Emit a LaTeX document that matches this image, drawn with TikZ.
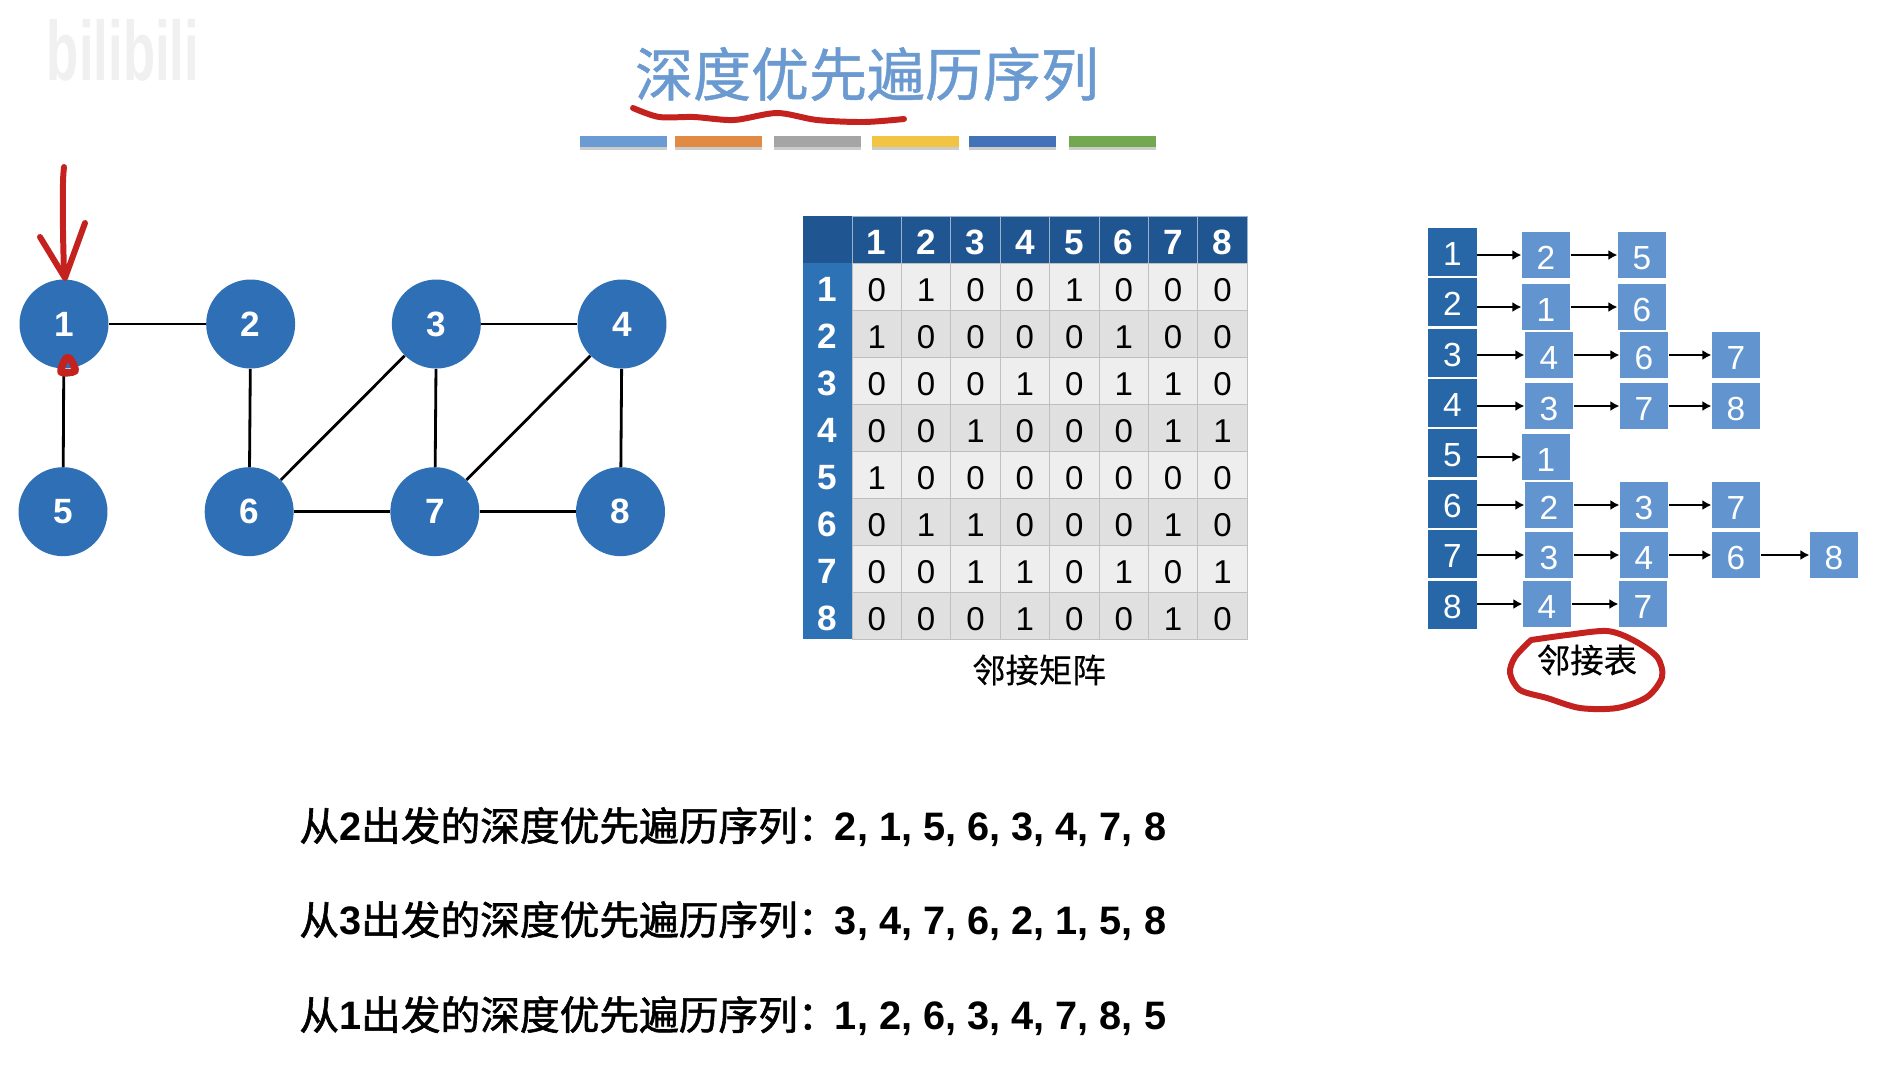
\documentclass[tikz,border=0pt]{standalone}
\usepackage{xcolor}
\usepackage{fontspec}
\setmainfont{Liberation Sans}
\newfontfamily\cjkf[FakeBold=0.4]{Noto Sans CJK SC}
\newfontfamily\cjkm[FakeBold=0.9]{Noto Sans CJK SC}
\newfontfamily\cjkb[FakeBold=1.5]{Noto Sans CJK SC}
\usetikzlibrary{arrows.meta,positioning,shadows}
\definecolor{nodeblue}{HTML}{2F6FB5}
\definecolor{headdark}{HTML}{1F5591}
\definecolor{headblue}{HTML}{2E72B6}
\definecolor{listdark}{HTML}{2767A8}
\definecolor{listcell}{HTML}{6295D0}
\definecolor{titleblue}{HTML}{6A9AD0}
\definecolor{inkred}{HTML}{C4221F}
\definecolor{barblue}{HTML}{6A9BD2}
\definecolor{barorange}{HTML}{E08A43}
\definecolor{bargray}{HTML}{A5A5A5}
\definecolor{baryellow}{HTML}{F2C443}
\definecolor{bardeep}{HTML}{4472B8}
\definecolor{bargreen}{HTML}{72A850}
\newcommand{\seqrow}[2]{{\mdseries\cjkb 从}#1{\mdseries\cjkb 出发的深度优先遍历序列：}\hspace{-1.5pt}#2}
\begin{document}
\begin{tikzpicture}[
  x=0.02cm, y=-0.02cm,
  vertex/.style={circle, fill=nodeblue, text=white, minimum size=1.78cm, inner sep=0pt, font=\fontsize{20pt}{20pt}\selectfont\bfseries},
  edge/.style={black, line width=1.6pt},
  bar/.style={minimum width=1.74cm, minimum height=0.22cm, inner sep=0pt, drop shadow={shadow xshift=0cm, shadow yshift=-0.07cm, opacity=.4}},
  corner/.style={fill=headdark, minimum width=0.98cm, minimum height=0.94cm, inner sep=0pt},
  tophead/.style={fill=headdark, draw=white!55!headdark, line width=0.4pt, text=white, text height=17.5pt, text depth=0pt, minimum width=0.988cm, minimum height=0.94cm, inner sep=0pt, font=\fontsize{20pt}{20pt}\selectfont\bfseries},
  sidehead/.style={fill=headblue, text=white, text height=17.5pt, text depth=0pt, minimum width=0.98cm, minimum height=0.94cm, inner sep=0pt, font=\fontsize{20pt}{20pt}\selectfont\bfseries},
  matcell/.style={draw=black!25, line width=0.4pt, text height=17.5pt, text depth=0pt, minimum width=0.988cm, minimum height=0.94cm, inner sep=0pt, font=\fontsize{18.8pt}{18.8pt}\selectfont},
  listhead/.style={fill=listdark, text=white, text height=15.5pt, text depth=0pt, minimum width=0.98cm, minimum height=0.95cm, inner sep=0pt, font=\fontsize{19pt}{19pt}\selectfont},
  listcell/.style={fill=listcell, text=white, text height=17pt, text depth=0pt, minimum width=0.97cm, minimum height=0.91cm, inner sep=0pt, font=\fontsize{19pt}{19pt}\selectfont},
  arr/.style={-{Latex[length=0.18cm,width=0.2cm]}, black, line width=1pt},
  caption/.style={font=\cjkf\fontsize{19pt}{19pt}\selectfont, inner sep=0pt},
  seqtext/.style={anchor=west, inner sep=0pt, font=\fontsize{22.6pt}{22.6pt}\selectfont\bfseries},
  ink/.style={inkred, line width=3.4pt, line cap=round, line join=round}
]
\useasboundingbox (0,0) rectangle (1888,1079);

\node[inner sep=0pt, text=black!6, yscale=1.6, font=\fontsize{30pt}{30pt}\selectfont\bfseries] (mark) at (123,50) {bilibili};

\node[inner sep=0pt, text=titleblue, font=\cjkm\fontsize{33pt}{33pt}\selectfont] (title) at (867,74) {深度优先遍历序列};
\foreach \x/\col [count=\i] in {623/barblue, 718/barorange, 817/bargray, 915/baryellow, 1012/bardeep, 1112/bargreen}
  \node[bar, fill=\col] (bar\i) at (\x,141) {};

\node[vertex] (n1) at (64,324) {1};
\node[vertex, right=1.94cm of n1] (n2) {2};
\node[vertex, right=1.92cm of n2] (n3) {3};
\node[vertex, right=1.92cm of n3] (n4) {4};
\node[vertex, below=1.96cm of n1, xshift=-0.02cm] (n5) {5};
\node[vertex, below=1.96cm of n2, xshift=-0.03cm] (n6) {6};
\node[vertex, below=1.96cm of n3, xshift=-0.03cm] (n7) {7};
\node[vertex, below=1.96cm of n4, xshift=-0.03cm] (n8) {8};
\foreach \a/\b in {n1/n2, n1/n5, n2/n6, n3/n4, n3/n6, n3/n7, n4/n7, n4/n8, n6/n7, n7/n8}
  \draw[edge] (\a) -- (\b);

\node[corner] (m00) at (827.5,239.5) {};
\foreach \c in {1,...,8}
  \node[tophead] (m0\c) at (852+49.4*\c-24.7,239.5) {\c};
\foreach \row [count=\r, evaluate=\r as \tint using {isodd(\r)?6.5:12}] in {
  {0,1,0,0,1,0,0,0},
  {1,0,0,0,0,1,0,0},
  {0,0,0,1,0,1,1,0},
  {0,0,1,0,0,0,1,1},
  {1,0,0,0,0,0,0,0},
  {0,1,1,0,0,0,1,0},
  {0,0,1,1,0,1,0,1},
  {0,0,0,1,0,0,1,0}} {
  \node[sidehead] (m\r0) at (827.5,263+47*\r-23.5) {\r};
  \foreach \v [count=\c] in \row
    \node[matcell, fill=black!\tint] (m\r\c) at (852+49.4*\c-24.7,263+47*\r-23.5) {\v};
}
\node[caption] (matname) at (1039,670) {邻接矩阵};

\foreach \y [count=\i] in {252,302,353,403,453,504,554,605}
  \node[listhead] (h\i) at (1452.5,\y) {\i};
\node[listcell] (a1) at (1546,255) {2};
\node[listcell] (b1) at (1642,255) {5};
\node[listcell] (a2) at (1546,307) {1};
\node[listcell] (b2) at (1642,307) {6};
\node[listcell] (a3) at (1549,355) {4};
\node[listcell] (b3) at (1644,355) {6};
\node[listcell] (c3) at (1736,355) {7};
\node[listcell] (a4) at (1549,406) {3};
\node[listcell] (b4) at (1644,406) {7};
\node[listcell] (c4) at (1736,406) {8};
\node[listcell] (a5) at (1546,457) {1};
\node[listcell] (a6) at (1549,505) {2};
\node[listcell] (b6) at (1644,505) {3};
\node[listcell] (c6) at (1736,505) {7};
\node[listcell] (a7) at (1549,555) {3};
\node[listcell] (b7) at (1644,555) {4};
\node[listcell] (c7) at (1736,555) {6};
\node[listcell] (d7) at (1834,555) {8};
\node[listcell] (a8) at (1547,604) {4};
\node[listcell] (b8) at (1643,604) {7};
\foreach \a/\b in {h1/a1, a1/b1, h2/a2, a2/b2, h3/a3, a3/b3, b3/c3, h4/a4, a4/b4, b4/c4, h5/a5, h6/a6, a6/b6, b6/c6, h7/a7, a7/b7, b7/c7, c7/d7, h8/a8, a8/b8}
  \draw[arr] (\a.east |- \b.west) -- (\b.west);
\node[caption] (listname) at (1587,660) {邻接表};

\node[seqtext] (seq2) at (299,827) {\seqrow{2}{2, 1, 5, 6, 3, 4, 7, 8}};
\node[seqtext] (seq3) at (299,921) {\seqrow{3}{3, 4, 7, 6, 2, 1, 5, 8}};
\node[seqtext] (seq1) at (299,1016) {\seqrow{1}{1, 2, 6, 3, 4, 7, 8, 5}};

\draw[ink] plot[smooth] coordinates {(633,108) (659,117) (694,117) (734,120) (777,113) (817,120) (864,122) (904,119)};
\draw[ink] plot[smooth] coordinates {(64,167) (63,183) (63,230) (64,273)};
\draw[ink] (40,237) -- (65,278) -- (85,223);
\draw[ink, line width=4.2pt] plot[smooth cycle] coordinates {(66,358) (71,360) (75,371) (61,372)};
\draw[ink] plot[smooth] coordinates {(1531,640) (1567,635) (1607,631) (1633,640) (1657,657) (1662,677) (1647,697) (1617,708) (1580,708) (1547,698) (1520,690) (1510,673) (1515,657) (1531,640)};
\end{tikzpicture}
\end{document}
